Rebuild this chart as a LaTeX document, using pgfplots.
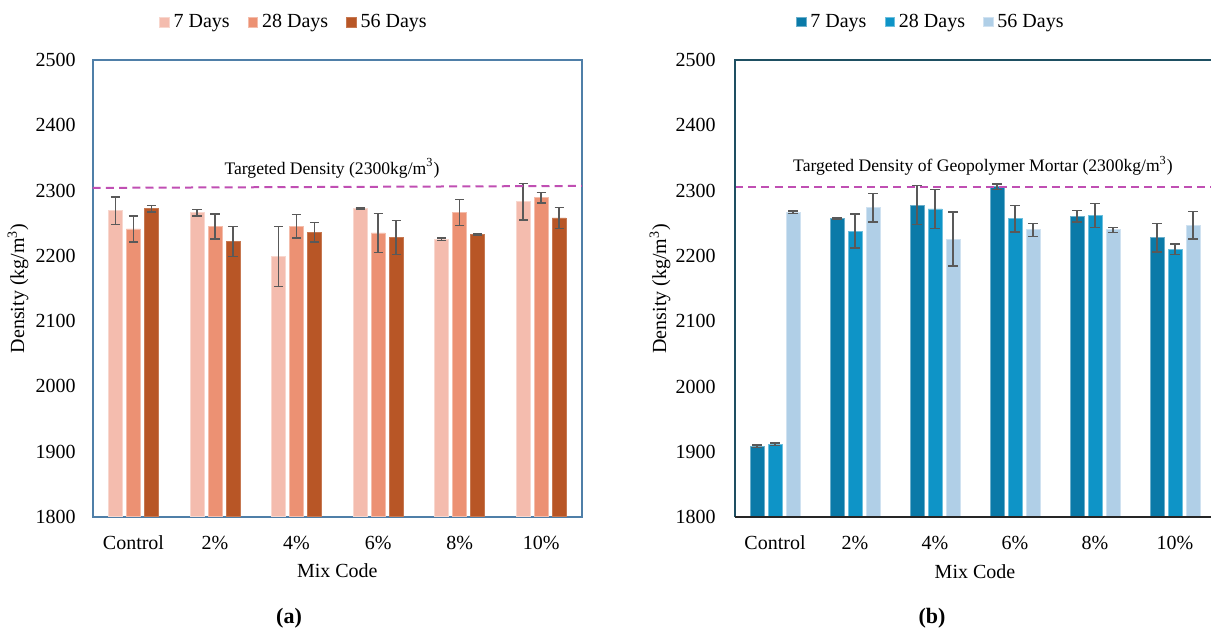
\documentclass[border=0pt]{standalone}
\usepackage{pgfplots}
\pgfplotsset{compat=1.18}
\usepackage{pgfplotstable}
\usepackage{fontspec}
\setmainfont{Liberation Serif}

% bar colours
\definecolor{aSeven}{RGB}{244,188,174}
\definecolor{aTwentyEight}{RGB}{236,145,115}
\definecolor{aFiftySix}{RGB}{184,86,38}
\definecolor{bSeven}{RGB}{10,122,168}
\definecolor{bTwentyEight}{RGB}{14,148,199}
\definecolor{bFiftySix}{RGB}{176,207,231}
\definecolor{errgray}{RGB}{89,89,89}
\definecolor{target}{RGB}{192,79,179}
\definecolor{frameA}{RGB}{79,127,168}
\definecolor{frameB}{RGB}{30,79,98}
\definecolor{baseB}{RGB}{38,38,38}

% density (kg/m^3) and standard deviation per mix and curing age
\pgfplotstableread{
x  d7   e7  d28  e28  d56  e56
0  2269 21  2241 20   2272 5
1  2266 5   2245 19   2222 23
2  2199 46  2245 18   2236 15
3  2273 1   2235 30   2228 26
4  2225 2   2266 20   2233 1
5  2283 28  2289 8    2258 16
}\densityA
\pgfplotstableread{
x  d7   e7  d28  e28  d56  e56
0  1909 2   1912 2    2267 2
1  2257 1   2238 26   2274 22
2  2278 30  2272 30   2226 41
3  2306 4   2257 20   2240 10
4  2261 9   2262 18   2240 4
5  2228 22  2210 8    2247 21
}\densityB

\pgfplotsset{
  densitychart/.style={
    scale only axis,
    ybar=2pt,
    bar width=7pt,
    ymin=1800, ymax=2500,
    ytick={1800,1900,...,2500},
    xmin=-0.5, xmax=5.5,
    xtick={0,1,2,3,4,5},
    xticklabels={Control,2\%,4\%,6\%,8\%,10\%},
    major tick length=0pt,
    /pgf/number format/1000 sep={},
    /pgf/number format/assume math mode=true,
    tick label style={font=\fontsize{10}{12}\selectfont},
    xticklabel style={anchor=base, yshift=-16.2pt},
    label style={font=\fontsize{10}{12}\selectfont},
    xlabel={Mix Code},
    ylabel={Density (kg/m\textsuperscript{3})},
    every axis x label/.style={at={(axis description cs:0.5,-0.118)}, anchor=center},
    legend columns=3,
    legend style={draw=none, fill=none, font=\fontsize{10}{12}\selectfont,
      inner sep=0pt, /tikz/every even column/.append style={column sep=7pt}},
    legend image code/.code={\fill[##1] (0pt,-2.4pt) rectangle (4.8pt,2.4pt);},
    error bars/y dir=both,
    error bars/y explicit,
    error bars/error bar style={errgray, line width=0.75pt},
    error bars/error mark options={errgray, rotate=90, mark size=2.3pt, line width=0.75pt},
  },
}

\begin{document}
\begin{tikzpicture}
\useasboundingbox (0,0) rectangle (605.5pt,-316pt);

% ---------- (a) ----------
\begin{axis}[densitychart,
  name=A,
  width=244.65pt, height=228.35pt,
  at={(46.35pt,-258.35pt)}, anchor=south west,
  axis line style={draw=frameA, line width=1.1pt},
  yticklabel style={anchor=east, inner sep=0pt, xshift=-8.3pt},
  every axis y label/.style={at={(axis description cs:-0.1527,0.5)}, rotate=90, anchor=center},
  legend style={at={(axis description cs:0.4134,1.083)}, anchor=center},
]
\addplot[fill=aSeven, draw=aSeven!60!white, line width=0.4pt]
  table[x=x, y=d7, y error=e7] {\densityA};
\addplot[fill=aTwentyEight, draw=aTwentyEight!60!white, line width=0.4pt]
  table[x=x, y=d28, y error=e28] {\densityA};
\addplot[fill=aFiftySix, draw=aFiftySix!80!white, line width=0.4pt]
  table[x=x, y=d56, y error=e56] {\densityA};
\legend{7 Days, 28 Days, 56 Days}
% targeted density reference line
\addplot[sharp plot, forget plot, target, line width=1pt, dash pattern=on 4pt off 2.6pt,
  error bars/y dir=none] coordinates {(-0.5,2304) (5.5,2307)};
\node[font=\fontsize{8.8}{10}\selectfont] at (axis cs:2.434,2334) {Targeted Density (2300kg/m\textsuperscript{3})};
\end{axis}

% ---------- (b) ----------
\begin{axis}[densitychart,
  name=B,
  width=240pt, height=228.65pt,
  at={(367.5pt,-258.65pt)}, anchor=south west,
  axis line style={draw=none},
  yticklabel style={anchor=east, inner sep=0pt, xshift=-9.5pt},
  every axis y label/.style={at={(axis description cs:-0.156,0.5)}, rotate=90, anchor=center},
  legend style={at={(axis description cs:0.41,1.083)}, anchor=center},
]
\addplot[fill=bSeven, draw=bSeven!60!white, line width=0.4pt]
  table[x=x, y=d7, y error=e7] {\densityB};
\addplot[fill=bTwentyEight, draw=bTwentyEight!60!white, line width=0.4pt]
  table[x=x, y=d28, y error=e28] {\densityB};
\addplot[fill=bFiftySix, draw=bFiftySix!60!white, line width=0.4pt]
  table[x=x, y=d56, y error=e56] {\densityB};
\legend{7 Days, 28 Days, 56 Days}
\addplot[sharp plot, forget plot, target, line width=1pt, dash pattern=on 4pt off 2.6pt,
  error bars/y dir=none] coordinates {(-0.5,2305) (5.5,2305)};
\node[font=\fontsize{8.8}{10}\selectfont] at (axis cs:2.6,2338) {Targeted Density of Geopolymer Mortar (2300kg/m\textsuperscript{3})};
\end{axis}
\draw[frameB, line width=1pt] (B.south west) -- (B.north west) -- (B.north east);
\draw[baseB, line width=1pt] (B.south west) -- (B.south east);

% panel captions
\node[font=\bfseries\fontsize{11}{13}\selectfont] at (144.5pt,-309pt) {(a)};
\node[font=\bfseries\fontsize{11}{13}\selectfont] at (466pt,-309pt) {(b)};
\end{tikzpicture}
\end{document}
